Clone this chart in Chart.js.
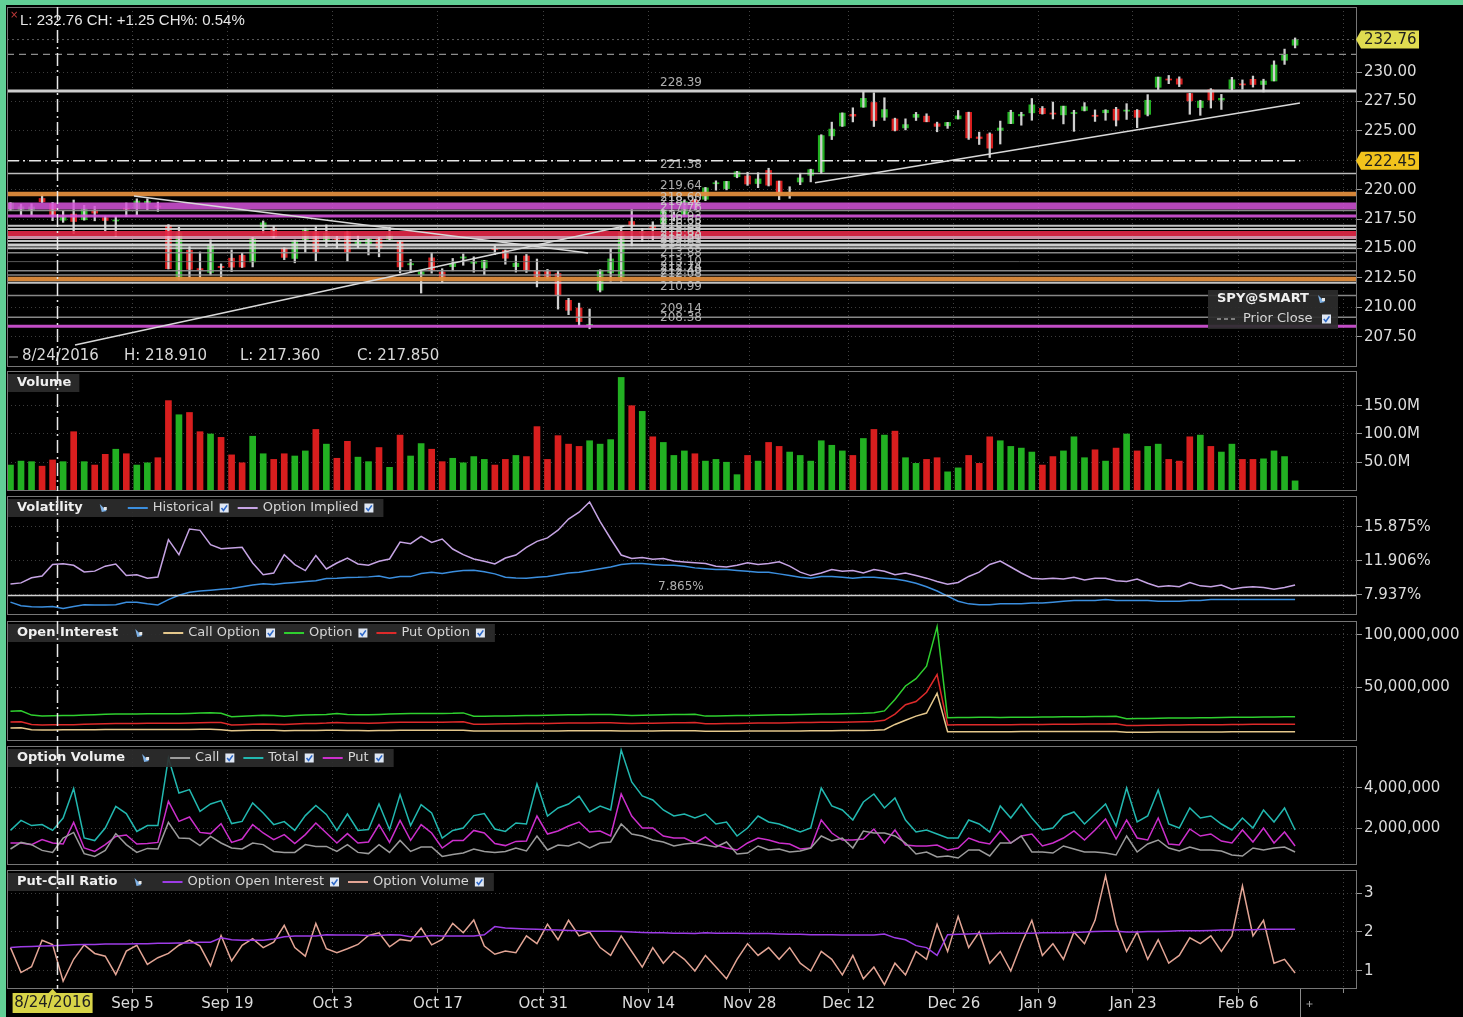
<!DOCTYPE html>
<html>
<head>
<meta charset="utf-8">
<title>SPY daily</title>
<script src="https://cdn.jsdelivr.net/npm/chart.js@4.4.1/dist/chart.umd.min.js"></script>
<style>
  html, body { margin: 0; padding: 0; background: #000; }
  #board { position: relative; width: 1463px; height: 1017px; background: #000; overflow: hidden; }
  #board canvas { position: absolute; left: 7px; }
  .rim-left { position: absolute; left: 0; top: 0; width: 6px; height: 1017px; background: #62cf96; }
  .rim-top { position: absolute; left: 0; top: 0; width: 1463px; height: 5px; background: #62cf96; }
</style>
</head>
<body>
<div id="board">
  <div class="rim-left"></div>
  <div class="rim-top"></div>
  <canvas id="priceChart" width="1456" height="360" style="top:7px"></canvas>
  <canvas id="volumeChart" width="1456" height="120" style="top:371px"></canvas>
  <canvas id="volatilityChart" width="1456" height="119" style="top:496px"></canvas>
  <canvas id="openInterestChart" width="1456" height="120" style="top:621px"></canvas>
  <canvas id="optionVolumeChart" width="1456" height="119" style="top:746px"></canvas>
  <canvas id="putCallChart" width="1456" height="147" style="top:870px"></canvas>
</div>
<script>
// **************************
//    DATA
// **************************
const tradingDays = [
  '8/18/2016','8/19/2016','8/22/2016','8/23/2016','8/24/2016','8/25/2016','8/26/2016','8/29/2016','8/30/2016','8/31/2016',
  '9/1/2016','9/2/2016','9/6/2016','9/7/2016','9/8/2016','9/9/2016','9/12/2016','9/13/2016','9/14/2016','9/15/2016',
  '9/16/2016','9/19/2016','9/20/2016','9/21/2016','9/22/2016','9/23/2016','9/26/2016','9/27/2016','9/28/2016','9/29/2016',
  '9/30/2016','10/3/2016','10/4/2016','10/5/2016','10/6/2016','10/7/2016','10/10/2016','10/11/2016','10/12/2016','10/13/2016',
  '10/14/2016','10/17/2016','10/18/2016','10/19/2016','10/20/2016','10/21/2016','10/24/2016','10/25/2016','10/26/2016','10/27/2016',
  '10/28/2016','10/31/2016','11/1/2016','11/2/2016','11/3/2016','11/4/2016','11/7/2016','11/8/2016','11/9/2016','11/10/2016',
  '11/11/2016','11/14/2016','11/15/2016','11/16/2016','11/17/2016','11/18/2016','11/21/2016','11/22/2016','11/23/2016','11/25/2016',
  '11/28/2016','11/29/2016','11/30/2016','12/1/2016','12/2/2016','12/5/2016','12/6/2016','12/7/2016','12/8/2016','12/9/2016',
  '12/12/2016','12/13/2016','12/14/2016','12/15/2016','12/16/2016','12/19/2016','12/20/2016','12/21/2016','12/22/2016','12/23/2016',
  '12/27/2016','12/28/2016','12/29/2016','12/30/2016','1/3/2017','1/4/2017','1/5/2017','1/6/2017','1/9/2017','1/10/2017',
  '1/11/2017','1/12/2017','1/13/2017','1/17/2017','1/18/2017','1/19/2017','1/20/2017','1/23/2017','1/24/2017','1/25/2017',
  '1/26/2017','1/27/2017','1/30/2017','1/31/2017','2/1/2017','2/2/2017','2/3/2017','2/6/2017','2/7/2017','2/8/2017',
  '2/9/2017','2/10/2017','2/13/2017'
];

const opens = [
  218.34,218.31,218.26,219.25,218.80,217.40,217.92,217.44,218.26,217.61,
  217.37,218.40,218.38,218.84,218.62,216.97,212.39,214.84,213.29,212.96,
  213.48,214.17,214.41,213.85,216.82,216.72,215.02,214.15,215.75,216.40,
  215.64,215.82,216.39,215.27,215.37,215.81,215.78,215.62,213.61,212.78,
  214.20,213.00,213.45,214.18,213.74,213.34,214.99,214.82,213.45,214.36,
  213.12,213.04,212.87,210.59,209.94,208.46,211.45,212.92,212.55,217.29,
  216.31,216.87,217.12,217.67,217.89,219.12,219.18,220.51,220.09,221.10,
  221.16,220.52,221.63,220.73,219.67,220.65,221.22,221.52,224.57,225.41,
  226.40,227.02,227.41,226.16,226.01,225.25,226.15,226.25,225.60,225.43,
  226.02,226.57,224.48,224.73,225.04,225.62,226.27,226.53,226.91,226.48,
  226.36,226.50,226.73,226.31,226.54,226.84,226.70,226.74,226.40,228.70,
  229.40,229.42,228.17,226.98,228.49,227.62,228.59,228.97,229.38,228.94,
  229.24,231.00,232.28
];
const highs = [
  218.90,218.76,218.80,219.60,218.91,218.19,219.12,218.67,218.59,217.75,
  217.73,218.87,219.22,219.22,218.94,217.03,216.81,215.15,214.70,215.73,
  213.69,214.88,214.59,215.94,217.34,216.88,215.05,215.71,216.72,216.86,
  217.00,216.03,216.46,216.09,215.83,215.94,216.80,215.66,214.08,213.12,
  214.63,213.28,214.15,214.54,214.29,213.99,215.24,214.87,214.39,214.49,
  214.10,213.22,213.07,210.76,210.35,209.85,213.19,214.97,216.87,218.31,
  216.70,217.27,218.33,218.12,219.12,219.19,220.19,220.75,220.70,221.56,
  221.48,221.44,221.82,220.73,220.25,221.40,221.74,224.67,225.74,226.53,
  226.96,228.34,228.23,227.81,226.08,226.02,226.57,226.45,225.74,225.72,
  226.73,226.59,224.89,224.83,225.83,226.75,226.58,227.75,227.07,227.45,
  227.10,226.75,227.40,226.78,226.80,227.00,227.31,226.81,228.08,229.57,
  229.71,229.59,228.20,227.60,228.59,228.10,229.55,229.33,229.66,229.39,
  230.95,231.95,232.90
];
const lows = [
  218.21,217.80,217.83,218.90,217.36,217.22,216.25,217.40,217.35,216.47,
  216.03,217.70,217.86,218.30,218.15,213.25,212.31,212.50,212.50,212.75,
  212.57,213.03,213.38,213.43,216.30,215.88,214.05,213.78,214.64,213.94,
  215.13,214.99,213.93,215.06,214.45,214.29,215.73,212.92,212.95,211.21,
  212.90,212.11,213.10,213.57,212.98,212.77,214.48,213.66,212.99,212.96,
  211.73,212.42,209.84,209.37,208.44,208.17,211.30,212.21,212.20,215.22,
  215.59,215.72,216.81,217.34,217.69,218.30,219.06,219.95,219.98,221.01,
  220.36,220.17,220.31,219.15,219.26,220.42,220.66,221.38,224.26,225.37,
  225.76,227.00,225.37,225.89,224.99,225.08,225.88,225.77,224.92,225.21,
  226.00,224.27,223.84,222.73,223.88,225.61,225.48,225.90,226.42,226.01,
  225.59,224.96,226.69,225.80,225.90,225.41,225.97,225.27,226.27,228.51,
  229.01,228.76,226.41,226.32,226.94,226.82,228.46,228.54,228.72,228.31,
  229.24,230.65,232.05
];
const closes = [
  218.86,218.54,218.53,218.97,217.85,217.70,217.29,218.36,218.00,217.38,
  217.39,218.37,219.03,219.01,218.51,213.28,216.34,213.23,213.15,215.28,
  213.37,213.41,213.42,215.82,217.18,215.99,214.24,215.57,216.64,214.68,
  216.30,215.78,214.68,215.63,215.78,215.04,216.16,213.43,213.71,213.01,
  213.12,212.38,213.71,214.28,213.88,213.98,214.89,214.17,213.74,213.17,
  212.54,212.55,211.01,209.74,208.78,208.55,213.15,214.11,216.38,216.92,
  216.42,216.59,218.28,217.87,218.99,218.50,220.15,220.58,220.70,221.52,
  220.48,220.91,220.38,219.57,219.68,221.00,221.70,224.60,225.15,226.51,
  226.25,227.76,225.88,226.81,225.04,225.53,226.40,225.77,225.38,225.71,
  226.27,224.40,224.35,223.53,225.24,226.58,226.40,227.21,226.46,226.46,
  227.10,226.53,227.05,226.25,226.75,225.91,226.74,226.15,227.60,229.57,
  229.33,228.97,227.55,227.53,227.62,227.77,229.34,228.93,228.94,229.24,
  230.60,231.51,232.76
];

// shares traded, millions
const volumeM = [
  45,52,51,43,54,51,104,51,45,64,
  73,65,45,49,58,159,134,138,104,100,
  94,63,49,96,65,55,65,61,70,108,
  82,57,87,59,51,76,41,98,61,83,
  73,51,57,49,60,55,45,55,62,60,
  113,55,97,82,78,88,82,90,200,150,
  140,95,85,62,70,65,52,55,50,28,
  62,52,85,78,68,62,52,88,80,70,
  62,92,108,98,105,58,48,55,58,33,
  40,62,48,95,88,78,75,68,45,60,
  70,95,58,72,52,75,100,70,78,82,
  55,52,95,98,78,68,82,55,55,56,
  70,60,17
];

// volatility, percent
const histVol = [
  7.10,6.69,6.56,6.52,6.60,6.36,6.60,6.80,6.77,6.77,
  6.80,7.10,7.08,6.90,6.77,7.39,7.90,8.25,8.40,8.50,
  8.60,8.70,8.90,9.10,9.25,9.15,9.30,9.40,9.50,9.60,
  9.85,9.88,9.98,10.00,10.05,10.15,9.90,10.08,10.08,10.45,
  10.58,10.45,10.66,10.80,10.82,10.66,10.40,10.00,9.92,9.90,
  10.00,10.10,10.30,10.50,10.60,10.80,11.00,11.20,11.50,11.60,
  11.60,11.50,11.40,11.40,11.30,11.10,11.00,10.90,10.90,10.80,
  10.70,10.60,10.60,10.40,10.20,10.00,9.90,10.10,10.10,10.00,
  9.90,10.00,10.00,9.90,9.80,9.60,9.30,8.90,8.40,7.80,
  7.20,6.90,6.80,6.80,6.90,6.90,6.90,7.00,7.00,7.10,
  7.20,7.30,7.30,7.30,7.40,7.30,7.30,7.30,7.30,7.20,
  7.20,7.20,7.30,7.30,7.40,7.40,7.40,7.40,7.40,7.40,
  7.40,7.40,7.40
];
const impliedVol = [
  9.22,9.35,9.95,10.15,11.50,11.58,11.40,10.63,10.72,11.30,
  11.55,10.20,10.30,9.90,10.04,14.39,12.64,15.64,15.48,13.81,
  13.34,13.42,13.50,11.67,10.31,10.50,12.64,11.48,10.78,12.53,
  10.97,11.67,12.25,11.55,11.40,11.87,12.14,14.12,13.93,14.78,
  14.08,14.47,13.30,12.64,12.14,11.87,11.55,12.25,12.60,13.50,
  14.20,14.60,15.50,16.80,17.60,18.80,16.50,14.50,12.60,12.20,
  12.30,12.10,12.20,11.90,11.80,11.70,11.60,11.30,11.20,11.40,
  11.70,11.50,11.60,11.80,11.30,10.60,10.20,10.50,10.90,10.70,
  10.80,10.50,10.90,10.70,10.30,10.50,10.20,9.90,9.50,9.20,
  9.40,10.10,10.60,11.50,11.90,11.20,10.50,9.90,9.80,9.90,
  9.80,10.00,9.70,9.90,9.90,9.60,9.50,9.80,9.30,8.90,
  9.00,8.90,9.40,9.00,8.90,9.10,8.60,8.80,8.90,8.80,
  8.60,8.80,9.10
];

// open interest, millions of contracts
const oiCall = [
  10.5,10.7,9.0,8.7,8.7,8.8,8.8,8.9,9.0,9.1,
  9.1,9.1,9.1,9.1,9.1,9.1,9.1,9.2,9.3,9.4,
  9.0,8.0,8.1,8.3,8.4,8.3,7.9,8.1,8.2,8.2,
  8.3,8.5,8.2,8.1,8.0,8.1,8.2,8.3,8.4,8.4,
  8.4,8.4,8.4,8.5,7.6,7.6,7.6,7.6,7.7,7.7,
  7.7,7.8,7.8,7.9,8.0,8.0,8.0,8.0,7.8,7.7,
  7.7,7.8,7.9,7.9,7.9,7.9,7.4,7.5,7.5,7.5,
  7.6,7.6,7.6,7.7,7.8,7.8,7.9,8.0,8.0,8.1,
  8.2,8.2,8.4,9.0,14.0,18.0,22.0,25.0,44.0,7.0,
  7.0,7.0,7.0,7.0,6.9,7.0,7.1,7.1,7.1,7.1,
  7.1,7.1,7.1,7.1,7.1,7.2,6.5,6.5,6.6,6.7,
  6.7,6.7,6.7,6.8,6.8,6.8,6.9,6.9,6.9,6.9,
  7.0,7.0,7.0
];
const oiTotal = [
  26.8,27.2,23.0,22.2,22.3,22.5,22.6,23.0,23.4,23.8,
  24.0,24.0,24.1,24.2,24.2,24.3,24.3,24.6,25.0,25.3,
  24.8,21.5,21.9,22.4,22.8,22.6,21.8,22.5,23.0,23.2,
  23.6,24.4,23.6,23.4,23.2,23.6,24.0,24.3,24.5,24.5,
  24.6,24.6,24.7,25.1,21.9,21.9,22.0,22.2,22.4,22.5,
  22.6,22.8,23.0,23.2,23.4,23.5,23.6,23.6,23.0,22.6,
  22.8,23.0,23.3,23.5,23.6,23.7,22.0,22.2,22.4,22.5,
  22.7,22.9,23.0,23.2,23.4,23.6,23.8,24.0,24.1,24.3,
  24.5,24.7,25.2,27.0,38.0,51.0,58.0,70.0,108.0,20.5,
  20.6,20.7,20.8,20.8,20.6,20.8,21.0,21.0,21.1,21.2,
  21.3,21.4,21.5,21.6,21.6,21.8,19.5,19.6,19.8,20.0,
  20.1,20.2,20.3,20.4,20.5,20.6,20.8,20.9,21.0,21.1,
  21.2,21.3,21.3
];
const oiPut = [
  16.3,16.5,14.0,13.5,13.6,13.7,13.8,14.1,14.4,14.7,
  14.9,14.9,15.0,15.1,15.1,15.2,15.2,15.4,15.7,15.9,
  15.8,13.5,13.8,14.1,14.4,14.3,13.9,14.4,14.8,15.0,
  15.3,15.9,15.4,15.3,15.2,15.5,15.8,16.0,16.1,16.1,
  16.2,16.2,16.3,16.6,14.3,14.3,14.4,14.6,14.7,14.8,
  14.9,15.0,15.2,15.3,15.4,15.5,15.6,15.6,15.2,14.9,
  15.1,15.2,15.4,15.6,15.7,15.8,14.6,14.7,14.9,15.0,
  15.1,15.3,15.4,15.5,15.6,15.8,15.9,16.0,16.1,16.2,
  16.3,16.5,16.8,18.0,24.0,33.0,36.0,45.0,62.0,13.5,
  13.6,13.7,13.8,13.8,13.7,13.8,13.9,13.9,14.0,14.1,
  14.2,14.3,14.4,14.5,14.5,14.6,13.0,13.1,13.2,13.3,
  13.4,13.5,13.6,13.6,13.7,13.8,13.9,14.0,14.1,14.2,
  14.2,14.3,14.3
];

// option volume, millions of contracts
const optVolCall = [
  0.95,1.28,1.17,0.88,0.78,1.50,1.78,0.72,0.58,0.88,
  1.72,1.17,0.78,0.98,0.95,2.28,1.50,1.47,1.12,1.58,
  1.25,1.00,0.95,1.25,1.17,0.83,0.78,0.78,1.17,1.08,
  1.08,0.83,1.17,0.78,0.72,1.17,0.78,1.38,0.83,1.05,
  1.05,0.58,0.67,0.75,0.95,0.83,0.78,0.83,1.00,0.85,
  1.60,0.90,1.15,1.10,1.30,1.00,1.25,1.30,2.20,1.70,
  1.60,1.40,1.30,1.10,1.20,1.25,1.15,1.05,1.30,0.70,
  0.75,1.10,0.90,0.95,0.80,0.85,1.00,1.60,1.35,1.50,
  1.00,1.85,1.75,1.75,1.60,1.25,0.70,0.80,0.55,0.60,
  0.50,0.90,0.90,0.60,1.25,1.25,1.60,0.80,0.80,0.75,
  1.10,0.95,0.80,0.80,0.75,0.65,1.60,0.80,1.20,1.40,
  1.00,0.85,1.05,0.90,0.90,0.85,0.65,0.60,1.00,0.90,
  1.00,1.05,0.80
];
const optVolTotal = [
  1.88,2.38,2.12,2.17,1.88,2.50,3.97,1.50,1.37,2.00,
  3.08,2.72,1.83,2.12,2.12,5.50,3.75,3.92,2.83,3.20,
  3.37,2.22,2.33,3.25,2.75,2.17,2.32,1.88,2.62,3.13,
  2.68,1.88,2.70,1.88,1.92,3.20,1.92,3.67,2.12,3.17,
  2.75,1.50,1.88,2.00,2.62,2.72,1.95,1.83,2.25,2.20,
  4.20,2.60,3.00,3.20,3.60,2.80,3.10,2.90,5.90,4.30,
  3.60,3.40,2.90,2.60,2.70,2.50,2.70,2.20,2.30,1.60,
  2.00,2.60,2.30,2.20,2.00,1.80,2.00,4.00,3.10,2.90,
  2.40,3.30,3.70,3.00,3.50,2.40,1.80,1.90,1.70,1.50,
  1.50,2.40,2.20,1.80,3.10,2.50,3.20,2.50,1.90,2.00,
  2.60,2.80,2.20,2.70,3.20,2.10,4.00,2.30,2.60,3.90,
  2.20,2.00,3.00,2.50,2.60,2.20,1.90,2.50,2.00,2.90,
  2.30,3.00,1.90
];
const optVolPut = [
  1.25,1.25,1.17,1.42,1.25,1.20,2.28,1.00,0.83,1.17,
  1.58,1.65,1.20,1.22,1.28,3.33,2.33,2.55,1.78,1.72,
  2.22,1.28,1.45,2.17,1.75,1.42,1.67,1.22,1.67,2.25,
  1.75,1.25,1.72,1.25,1.30,2.17,1.28,2.38,1.38,2.17,
  1.75,1.00,1.37,1.37,1.88,1.75,1.22,1.12,1.33,1.35,
  2.60,1.70,1.85,2.10,2.30,1.80,1.85,1.60,3.70,2.60,
  2.00,2.00,1.60,1.50,1.50,1.25,1.55,1.15,1.00,0.90,
  1.25,1.50,1.40,1.25,1.20,0.95,1.00,2.40,1.75,1.40,
  1.40,1.45,1.95,1.25,1.90,1.15,1.10,1.10,1.15,0.90,
  1.00,1.50,1.30,1.20,1.85,1.25,1.60,1.70,1.10,1.25,
  1.50,1.85,1.40,1.90,2.45,1.45,2.40,1.50,1.40,2.50,
  1.20,1.15,1.95,1.60,1.70,1.35,1.25,1.90,1.30,2.00,
  1.25,1.80,1.10
];

// put / call ratios
const pcrOpenInterest = [
  1.60,1.62,1.63,1.64,1.65,1.66,1.67,1.68,1.68,1.69,
  1.69,1.69,1.70,1.70,1.71,1.71,1.72,1.72,1.74,1.74,
  1.85,1.80,1.79,1.79,1.79,1.82,1.88,1.90,1.90,1.90,
  1.93,1.92,1.92,1.92,1.91,1.91,1.93,1.92,1.88,1.88,
  1.91,1.90,1.90,1.90,1.90,1.93,2.14,2.10,2.09,2.08,
  2.07,2.06,2.05,2.04,2.03,2.02,2.02,2.02,2.01,2.00,
  1.99,1.98,1.98,1.97,1.97,1.96,1.98,1.97,1.97,1.97,
  1.96,1.96,1.96,1.95,1.94,1.94,1.93,1.93,1.93,1.92,
  1.92,1.92,1.92,1.95,1.85,1.80,1.65,1.60,1.40,1.93,
  1.94,1.95,1.96,1.96,1.97,1.97,1.97,1.97,1.98,1.98,
  1.98,1.99,2.00,2.01,2.02,2.02,2.00,2.00,2.01,2.01,
  2.02,2.03,2.03,2.03,2.04,2.05,2.05,2.06,2.06,2.07,
  2.07,2.07,2.07
];
const pcrVolume = [
  1.60,0.96,1.11,1.79,1.68,0.74,1.30,1.67,1.45,1.38,
  0.91,1.51,1.66,1.17,1.34,1.45,1.66,1.79,1.64,1.13,
  1.91,1.26,1.66,1.83,1.60,1.74,2.17,1.60,1.38,2.22,
  1.57,1.47,1.57,1.68,1.91,1.98,1.62,1.81,1.77,2.10,
  1.67,1.81,2.22,1.98,2.31,1.64,1.43,1.51,1.47,1.90,
  1.70,2.20,1.80,2.30,1.90,2.00,1.60,1.40,1.90,1.50,
  1.10,1.60,1.20,1.50,1.30,1.00,1.40,1.10,0.80,1.30,
  1.70,1.40,1.60,1.30,1.60,1.20,1.00,1.50,1.30,0.90,
  1.40,0.80,1.10,0.65,1.20,0.90,1.50,1.30,2.20,1.50,
  2.40,1.60,2.00,1.20,1.50,1.00,1.70,2.30,1.40,1.70,
  1.30,2.00,1.70,2.30,3.44,2.20,1.50,2.00,1.30,1.80,
  1.20,1.40,1.85,1.70,1.90,1.50,1.90,3.18,1.90,2.30,
  1.20,1.30,0.95
];

// date axis: grid position (bar index) and label
const dateTickPos = [11.6, 20.6, 30.6, 40.6, 50.6, 60.6, 70.2, 79.6, 89.6, 97.6, 106.6, 116.6, 126.6];
const dateTickLabels = ['Sep 5', 'Sep 19', 'Oct 3', 'Oct 17', 'Oct 31', 'Nov 14', 'Nov 28', 'Dec 12', 'Dec 26', 'Jan 9', 'Jan 23', 'Feb 6', ''];

const priceTicks = [207.5, 210, 212.5, 215, 217.5, 220, 222.5, 225, 227.5, 230];
const volumeTicks = [50, 100, 150];
const volatilityTicks = [7.937, 11.906, 15.875];
const oiTicks = [50, 100];
const optVolTicks = [2, 4];
const pcrTicks = [1, 2, 3];

// horizontal price levels and their line kind
const levelPrices = [228.39, 221.38, 219.64, 218.60, 218.22, 217.76, 216.93, 216.65, 216.28, 215.94, 215.63,
                     215.30, 215.01, 214.63, 213.88, 213.10, 212.74, 212.40, 212.08, 210.99, 209.14, 208.38];
const levelKinds = ['heavy', 'thin', 'orange', 'band', 'grey', 'magenta', 'white', 'white', 'red', 'pink', 'white',
                    'heavy', 'white', 'grey', 'dim', 'grey', 'grey', 'orange', 'white', 'grey', 'grey', 'magenta'];
const pivotPrice = 222.45;
const volatilityFloor = 7.865;
// trend lines: [startIndex, startPrice, endIndex, endPrice]
const trendLines = [
  [11.73, 219.46, 54.85, 214.61],
  [6.13, 206.79, 58.3, 216.90],
  [76.4, 220.59, 122.46, 227.36]
];
const cursorDay = '8/24/2016';


// **************************
//    SHARED SETUP
// **************************
const FONT = 'DejaVu Sans';
const X_MIN = -0.33, X_MAX = 127.88;
const AXIS_W = 106;
const lastIdx = closes.length - 1;
const cursorIdx = tradingDays.indexOf(cursorDay);
const UP = '#22b022', DOWN = '#d81e1e';
const candleColors = closes.map((c, i) => c >= opens[i] ? UP : DOWN);

const LEVEL_STYLES = {
  heavy:   ['rgba(216,216,216,0.95)', 3],
  thin:    ['rgba(210,210,210,0.9)', 1.5],
  white:   ['rgba(215,215,215,0.9)', 2],
  grey:    ['rgba(150,150,150,0.9)', 1.5],
  dim:     ['rgba(110,110,110,0.8)', 1],
  orange:  ['rgba(222,140,60,0.95)', 4.5],
  band:    ['rgba(214,84,218,0.85)', 7],
  magenta: ['rgba(214,84,218,0.9)', 3],
  red:     ['rgba(228,40,72,0.9)', 5],
  pink:    ['rgba(240,170,195,0.85)', 3]
};

Chart.defaults.font.family = FONT;
Chart.defaults.animation = false;

const pts = arr => arr.map((v, i) => ({ x: i, y: v }));

function xScale(showLabels) {
  return {
    type: 'linear', min: X_MIN, max: X_MAX, offset: false,
    afterBuildTicks: s => { s.ticks = dateTickPos.map(v => ({ value: v })); },
    afterFit: s => { s.height = showLabels ? 28 : 0; s.paddingLeft = 0; s.paddingRight = 0; },
    ticks: {
      display: showLabels, autoSkip: false, maxRotation: 0, padding: 2,
      color: '#dcdcdc', font: { family: FONT, size: 15 },
      callback: (v, i) => dateTickLabels[i]
    },
    grid: { offset: false, color: '#424242', drawTicks: showLabels, tickLength: 4, tickColor: '#8a8a8a', tickBorderDash: [] },
    border: { display: false, dash: [1, 3] }
  };
}

function yScale(min, max, ticks, fmt) {
  return {
    position: 'right', min, max,
    afterBuildTicks: s => { s.ticks = ticks.map(v => ({ value: v })); },
    afterFit: s => { s.width = AXIS_W; s.paddingTop = 0; s.paddingBottom = 0; },
    ticks: { color: '#dcdcdc', font: { family: FONT, size: 15 }, padding: 2, callback: v => fmt(v) },
    grid: { color: '#3c3c3c', tickLength: 5, tickColor: '#9a9a9a', tickBorderDash: [] },
    border: { display: false, dash: [1, 3] }
  };
}

function baseOptions(yMin, yMax, ticks, fmt, showDates) {
  return {
    responsive: false,
    animation: false,
    layout: { padding: 0 },
    plugins: { legend: { display: false }, tooltip: { enabled: false } },
    scales: { x: xScale(showDates), y: yScale(yMin, yMax, ticks, fmt) }
  };
}

function lineSet(data, color) {
  return { data: pts(data), borderColor: color, borderWidth: 1.5, pointRadius: 0, tension: 0, fill: false };
}

function hline(ctx, x1, x2, y, color, width, dash) {
  ctx.save();
  ctx.strokeStyle = color;
  ctx.lineWidth = width;
  ctx.setLineDash(dash || []);
  ctx.beginPath();
  ctx.moveTo(x1, y);
  ctx.lineTo(x2, y);
  ctx.stroke();
  ctx.restore();
}

function drawCheck(ctx, x, y) {
  ctx.save();
  ctx.fillStyle = '#dfe7f3';
  ctx.fillRect(x, y - 4.5, 9, 9);
  ctx.strokeStyle = '#2d68c8';
  ctx.lineWidth = 1.6;
  ctx.beginPath();
  ctx.moveTo(x + 1.8, y);
  ctx.lineTo(x + 3.8, y + 2.4);
  ctx.lineTo(x + 7.4, y - 2.6);
  ctx.stroke();
  ctx.restore();
}

function drawToolIcon(ctx, x, y) {
  ctx.save();
  ctx.fillStyle = '#7fb2e6';
  ctx.beginPath();
  ctx.moveTo(x, y - 4);
  ctx.lineTo(x + 7, y + 3);
  ctx.lineTo(x + 2, y + 4);
  ctx.closePath();
  ctx.fill();
  ctx.fillStyle = '#e8e8e8';
  ctx.fillRect(x + 4, y - 1, 3, 3);
  ctx.restore();
}

// pane caption box with legend entries
function drawPaneHeader(ctx, area, title, items) {
  const y = area.top + 12;
  ctx.save();
  ctx.textBaseline = 'middle';
  ctx.font = `bold 13px ${FONT}`;
  const titleW = ctx.measureText(title).width;
  ctx.font = `13px ${FONT}`;
  let w = 10 + titleW + 8;
  if (items.length) {
    w = 10 + titleW + 17 + 9 + 19;
    items.forEach((it, k) => {
      w += 25 + ctx.measureText(it.label).width + 6 + 9 + (k < items.length - 1 ? 9 : 10);
    });
  }
  ctx.fillStyle = 'rgba(44,44,44,0.92)';
  ctx.fillRect(area.left, area.top + 3, w, 18);

  let x = area.left + 10;
  ctx.fillStyle = '#f0f0f0';
  ctx.font = `bold 13px ${FONT}`;
  ctx.fillText(title, x, y);
  x += titleW;
  if (items.length) {
    x += 17;
    drawToolIcon(ctx, x, y);
    x += 28;
    ctx.font = `13px ${FONT}`;
    items.forEach(it => {
      hline(ctx, x, x + 20, y, it.color, 2);
      x += 25;
      ctx.fillStyle = '#d6d6d6';
      ctx.fillText(it.label, x, y);
      x += ctx.measureText(it.label).width + 6;
      drawCheck(ctx, x, y);
      x += 18;
    });
  }
  ctx.restore();
}

// pane outline and the cursor line, on every pane
const paneFrame = {
  id: 'paneFrame',
  afterDraw(chart) {
    const { ctx, chartArea: a, scales: { x } } = chart;
    ctx.save();
    ctx.strokeStyle = '#767676';
    ctx.lineWidth = 1;
    ctx.strokeRect(a.left + 0.5, a.top + 0.5, a.right - a.left - 1, a.bottom - a.top - 1);
    const cx = Math.round(x.getPixelForValue(cursorIdx + 0.42)) + 0.5;
    ctx.strokeStyle = '#e8e8e8';
    ctx.lineWidth = 1.5;
    ctx.setLineDash([13, 4, 2, 4]);
    ctx.beginPath();
    ctx.moveTo(cx, a.top);
    ctx.lineTo(cx, a.bottom);
    ctx.stroke();
    ctx.restore();
  }
};
Chart.register(paneFrame);

function axisTag(ctx, a, yPix, text, bg) {
  ctx.save();
  const x0 = a.right + 2;
  ctx.fillStyle = bg;
  ctx.beginPath();
  ctx.moveTo(x0 - 3, yPix);
  ctx.lineTo(x0 + 2, yPix - 9);
  ctx.lineTo(x0 + 60, yPix - 9);
  ctx.lineTo(x0 + 60, yPix + 9);
  ctx.lineTo(x0 + 2, yPix + 9);
  ctx.closePath();
  ctx.fill();
  ctx.fillStyle = '#1e1e1e';
  ctx.font = `15px ${FONT}`;
  ctx.textBaseline = 'middle';
  ctx.fillText(text, x0 + 5, yPix + 1);
  ctx.restore();
}


// **************************
//    PRICE PANE
// **************************
const pricePane = {
  id: 'pricePane',
  afterDatasetsDraw(chart) {
    const { ctx, chartArea: a, scales: { x, y } } = chart;
    ctx.save();
    ctx.beginPath();
    ctx.rect(a.left, a.top, a.right - a.left, a.bottom - a.top);
    ctx.clip();

    hline(ctx, a.left, a.right, y.getPixelForValue(closes[lastIdx]), '#5c5c5c', 1, [2, 3]);
    hline(ctx, a.left, a.right, y.getPixelForValue(closes[lastIdx - 1]), '#8c8c8c', 1.2, [7, 5]);

    levelPrices.forEach((p, i) => {
      const [c, w] = LEVEL_STYLES[levelKinds[i]];
      hline(ctx, a.left, a.right, y.getPixelForValue(p), c, w);
    });
    hline(ctx, a.left, x.getPixelForValue(lastIdx + 0.5), y.getPixelForValue(pivotPrice), '#e6e6e6', 1.5, [12, 4, 2, 4]);

    ctx.strokeStyle = '#d8d8d8';
    ctx.lineWidth = 1.5;
    trendLines.forEach(([i1, p1, i2, p2]) => {
      ctx.beginPath();
      ctx.moveTo(x.getPixelForValue(i1), y.getPixelForValue(p1));
      ctx.lineTo(x.getPixelForValue(i2), y.getPixelForValue(p2));
      ctx.stroke();
    });

    ctx.font = `12px ${FONT}`;
    ctx.fillStyle = 'rgba(205,205,205,0.85)';
    ctx.textBaseline = 'middle';
    levelPrices.forEach(p => ctx.fillText(p.toFixed(2), a.left + 653, y.getPixelForValue(p) - 8.5));

    // quote line at the top
    const chg = closes[lastIdx] - closes[lastIdx - 1];
    const pct = chg / closes[lastIdx - 1] * 100;
    ctx.font = '15px "Liberation Sans"';
    ctx.fillStyle = '#e6e6e6';
    ctx.fillText(`L: ${closes[lastIdx].toFixed(2)} CH: ${chg >= 0 ? '+' : ''}${chg.toFixed(2)} CH%: ${pct.toFixed(2)}%`, a.left + 13, a.top + 14);
    ctx.font = `10px ${FONT}`;
    ctx.fillStyle = '#c23a3a';
    ctx.fillText('×', a.left + 3, a.top + 8);

    // bar under the cursor
    ctx.font = `15px ${FONT}`;
    ctx.fillStyle = '#d9d9d9';
    const sy = a.top + 349;
    ctx.fillText(tradingDays[cursorIdx], a.left + 15, sy);
    ctx.fillText(`H: ${highs[cursorIdx].toFixed(3)}`, a.left + 117, sy);
    ctx.fillText(`L: ${lows[cursorIdx].toFixed(3)}`, a.left + 233, sy);
    ctx.fillText(`C: ${closes[cursorIdx].toFixed(3)}`, a.left + 350, sy);
    hline(ctx, a.left + 2, a.left + 11, sy + 1, '#9a9a9a', 1.2);

    // instrument legend
    const bx = a.left + 1201, by = a.top + 283;
    ctx.fillStyle = 'rgba(44,44,44,0.92)';
    ctx.fillRect(bx, by, 130, 39);
    ctx.font = `bold 13px ${FONT}`;
    ctx.fillStyle = '#f0f0f0';
    ctx.fillText('SPY@SMART', bx + 9, by + 9);
    drawToolIcon(ctx, bx + 110, by + 9);
    hline(ctx, bx + 9, bx + 30, by + 29, '#9a9a9a', 1.5, [4, 3]);
    ctx.font = `13px ${FONT}`;
    ctx.fillStyle = '#d6d6d6';
    ctx.fillText('Prior Close', bx + 35, by + 29);
    drawCheck(ctx, bx + 114, by + 29);
    ctx.restore();
  },
  afterDraw(chart) {
    const { ctx, chartArea: a, scales: { y } } = chart;
    axisTag(ctx, a, y.getPixelForValue(closes[lastIdx]), closes[lastIdx].toFixed(2), '#e0dc50');
    axisTag(ctx, a, y.getPixelForValue(pivotPrice), pivotPrice.toFixed(2), '#f2c31c');
  }
};

new Chart(document.getElementById('priceChart'), {
  type: 'bar',
  data: {
    datasets: [
      {
        data: lows.map((l, i) => ({ x: i, y: [l, highs[i]] })),
        backgroundColor: '#cfcfcf', barThickness: 1.6, grouped: false, borderWidth: 0
      },
      {
        data: opens.map((o, i) => {
          const lo = Math.min(o, closes[i]), hi = Math.max(o, closes[i]);
          const pad = Math.max(0, 0.09 - (hi - lo)) / 2;
          return { x: i, y: [lo - pad, hi + pad] };
        }),
        backgroundColor: candleColors, barThickness: 6, grouped: false, borderWidth: 0
      }
    ]
  },
  options: baseOptions(204.92, 235.53, priceTicks, v => v.toFixed(2), false),
  plugins: [pricePane]
});


// **************************
//    VOLUME PANE
// **************************
new Chart(document.getElementById('volumeChart'), {
  type: 'bar',
  data: {
    datasets: [{
      data: pts(volumeM), backgroundColor: candleColors, barThickness: 6, borderWidth: 0
    }]
  },
  options: baseOptions(-0.9, 211.4, volumeTicks, v => v.toFixed(1) + 'M', false),
  plugins: [{
    id: 'volumeHeader',
    afterDatasetsDraw(chart) { drawPaneHeader(chart.ctx, chart.chartArea, 'Volume', []); }
  }]
});


// **************************
//    VOLATILITY PANE
// **************************
new Chart(document.getElementById('volatilityChart'), {
  type: 'line',
  data: { datasets: [lineSet(histVol, '#3b8ede'), lineSet(impliedVol, '#c6a4e4')] },
  options: baseOptions(5.60, 19.49, volatilityTicks, v => v.toFixed(3) + '%', false),
  plugins: [{
    id: 'volatilityPane',
    afterDatasetsDraw(chart) {
      const { ctx, chartArea: a, scales: { y } } = chart;
      const yy = y.getPixelForValue(volatilityFloor);
      hline(ctx, a.left, a.right, yy, '#cfcfcf', 1.5);
      ctx.save();
      ctx.font = `12px ${FONT}`;
      ctx.fillStyle = 'rgba(205,205,205,0.85)';
      ctx.textBaseline = 'middle';
      ctx.fillText(volatilityFloor.toFixed(3) + '%', a.left + 651, yy - 8.5);
      ctx.restore();
      drawPaneHeader(ctx, a, 'Volatility', [
        { label: 'Historical', color: '#3b8ede' },
        { label: 'Option Implied', color: '#c6a4e4' }
      ]);
    }
  }]
});


// **************************
//    OPEN INTEREST PANE
// **************************
new Chart(document.getElementById('openInterestChart'), {
  type: 'line',
  data: { datasets: [lineSet(oiCall, '#e5c88c'), lineSet(oiPut, '#dd2a2a'), lineSet(oiTotal, '#2fcf2f')] },
  options: baseOptions(-1.92, 113.46, oiTicks, v => (v * 1e6).toLocaleString('en-US'), false),
  plugins: [{
    id: 'oiHeader',
    afterDatasetsDraw(chart) {
      drawPaneHeader(chart.ctx, chart.chartArea, 'Open Interest', [
        { label: 'Call Option', color: '#e5c88c' },
        { label: 'Option', color: '#2fcf2f' },
        { label: 'Put Option', color: '#dd2a2a' }
      ]);
    }
  }]
});


// **************************
//    OPTION VOLUME PANE
// **************************
new Chart(document.getElementById('optionVolumeChart'), {
  type: 'line',
  data: { datasets: [lineSet(optVolCall, '#9c9c9c'), lineSet(optVolPut, '#cc2fcc'), lineSet(optVolTotal, '#22b8b0')] },
  options: baseOptions(0.15, 6.1, optVolTicks, v => (v * 1e6).toLocaleString('en-US'), false),
  plugins: [{
    id: 'optVolHeader',
    afterDatasetsDraw(chart) {
      drawPaneHeader(chart.ctx, chart.chartArea, 'Option Volume', [
        { label: 'Call', color: '#9c9c9c' },
        { label: 'Total', color: '#22b8b0' },
        { label: 'Put', color: '#cc2fcc' }
      ]);
    }
  }]
});


// **************************
//    PUT-CALL RATIO PANE
// **************************
new Chart(document.getElementById('putCallChart'), {
  type: 'line',
  data: { datasets: [lineSet(pcrOpenInterest, '#9d3ce6'), lineSet(pcrVolume, '#e3a595')] },
  options: baseOptions(0.538, 3.59, pcrTicks, v => String(v), true),
  plugins: [{
    id: 'pcrPane',
    afterDatasetsDraw(chart) {
      drawPaneHeader(chart.ctx, chart.chartArea, 'Put-Call Ratio', [
        { label: 'Option Open Interest', color: '#9d3ce6' },
        { label: 'Option Volume', color: '#e3a595' }
      ]);
    },
    afterDraw(chart) {
      const { ctx, chartArea: a, scales: { x } } = chart;
      ctx.save();
      // cursor date on the time axis
      const cx = x.getPixelForValue(cursorIdx);
      const top = a.bottom + 4;
      ctx.fillStyle = '#d8d448';
      ctx.fillRect(cx - 40, top, 80, 20);
      ctx.beginPath();
      ctx.moveTo(cx - 4, top);
      ctx.lineTo(cx, top - 4);
      ctx.lineTo(cx + 4, top);
      ctx.closePath();
      ctx.fill();
      ctx.fillStyle = '#202020';
      ctx.font = `15px ${FONT}`;
      ctx.textAlign = 'center';
      ctx.textBaseline = 'middle';
      ctx.fillText(tradingDays[cursorIdx], cx, top + 10.5);
      // end-of-data marker
      const ex = Math.round(x.getPixelForValue(lastIdx + 0.5)) + 0.5;
      ctx.strokeStyle = '#8a8a8a';
      ctx.lineWidth = 1;
      ctx.beginPath();
      ctx.moveTo(ex, a.bottom);
      ctx.lineTo(ex, chart.height);
      ctx.stroke();
      ctx.strokeStyle = '#9a9a9a';
      ctx.beginPath();
      ctx.moveTo(ex + 6, a.bottom + 15);
      ctx.lineTo(ex + 12, a.bottom + 15);
      ctx.moveTo(ex + 9, a.bottom + 12);
      ctx.lineTo(ex + 9, a.bottom + 18);
      ctx.stroke();
      ctx.restore();
    }
  }]
});
</script>
</body>
</html>
